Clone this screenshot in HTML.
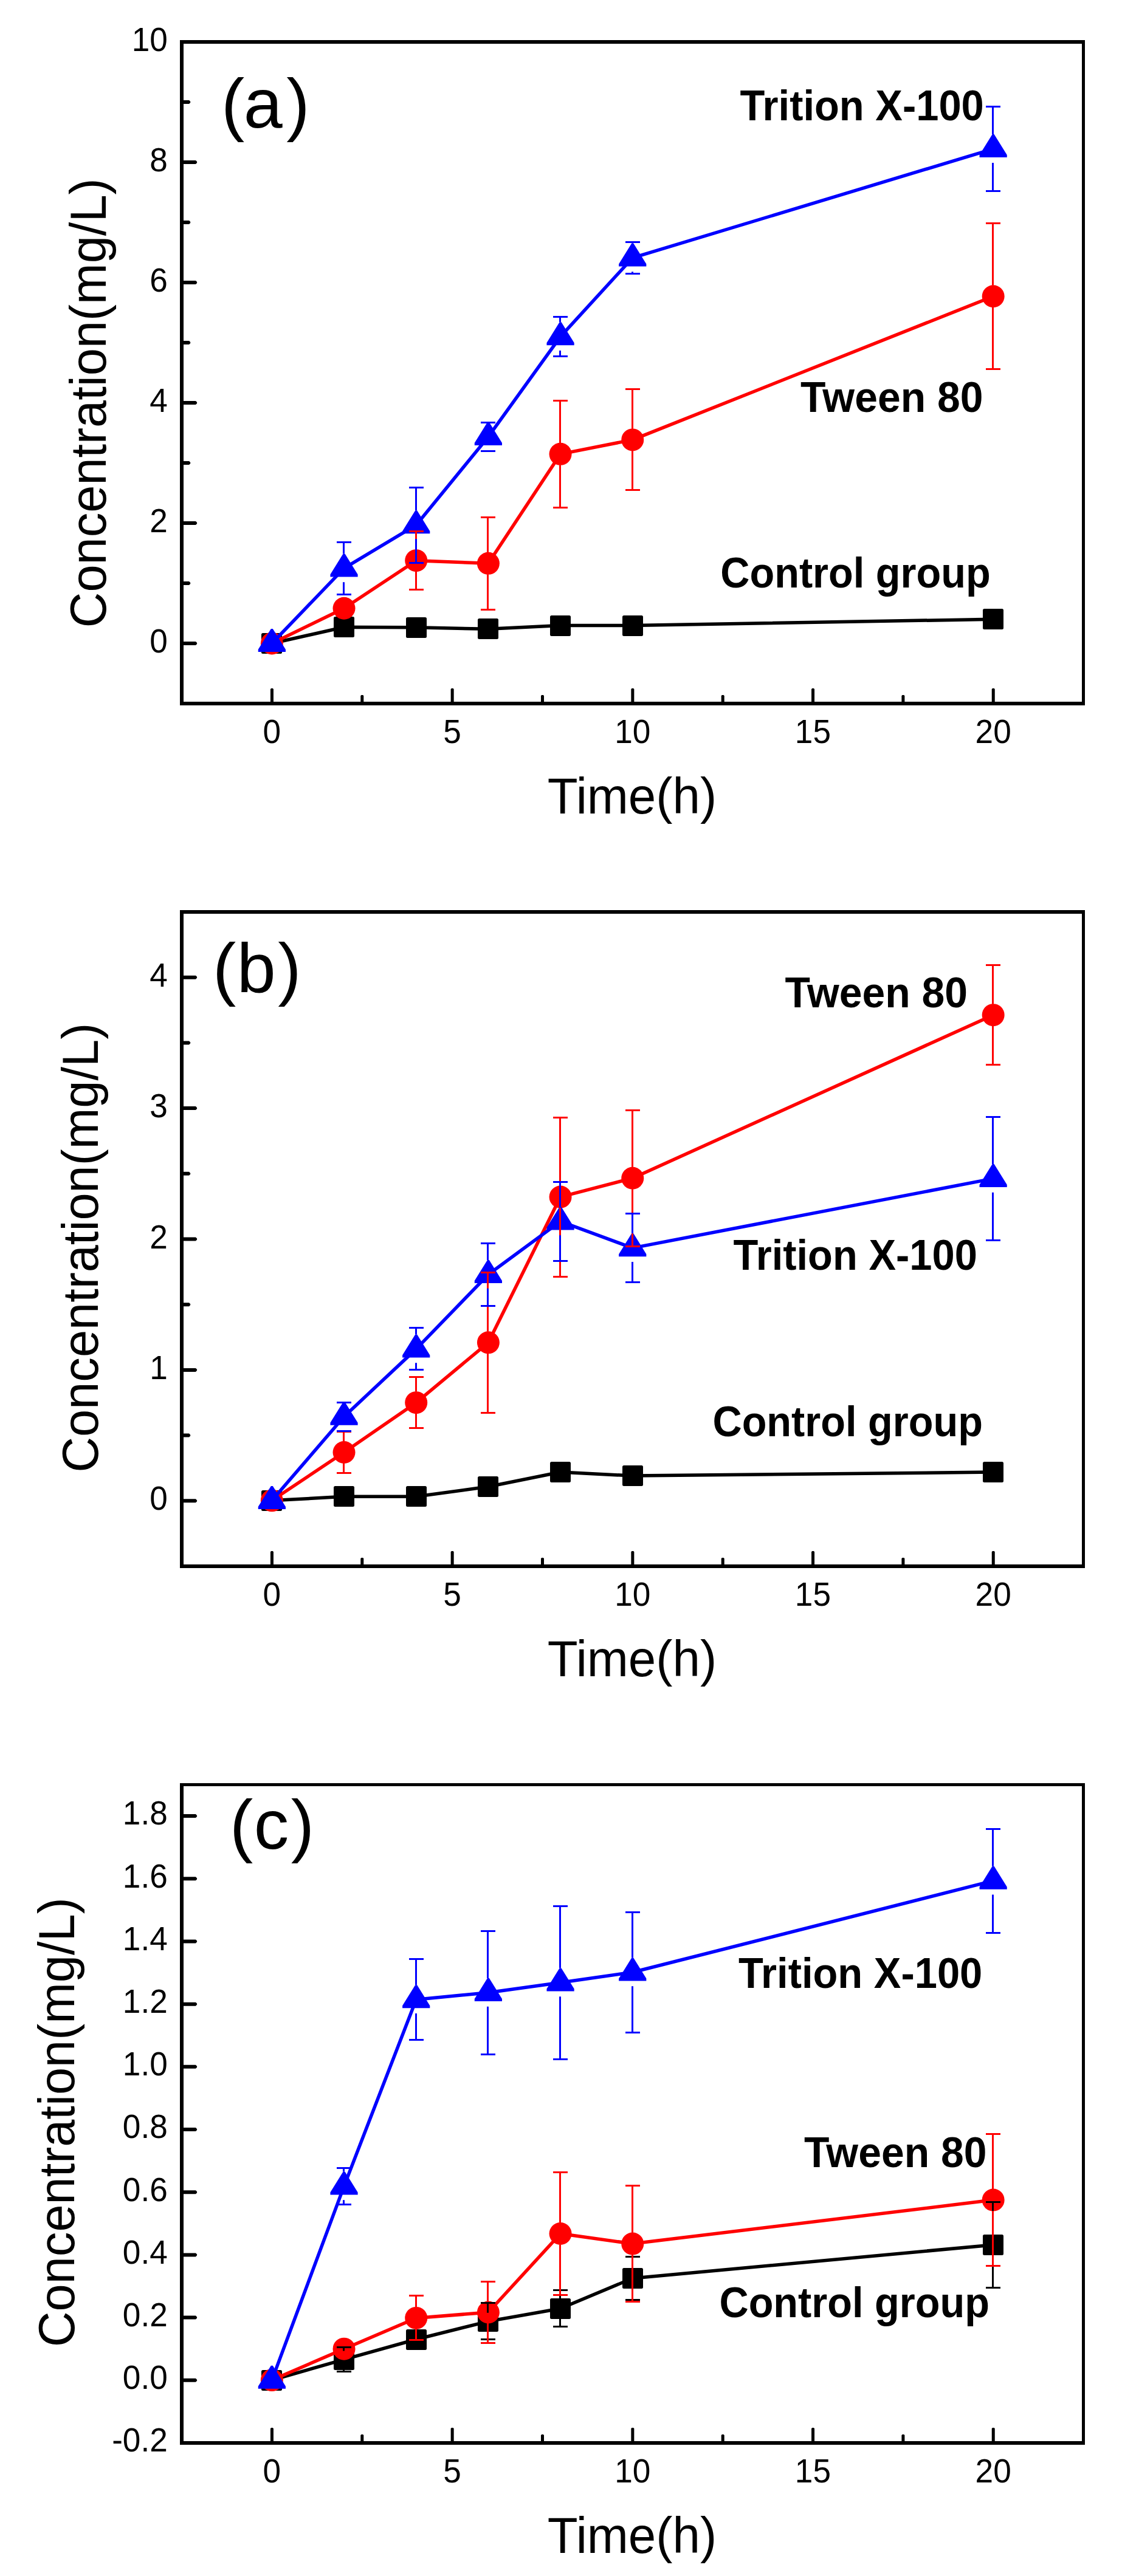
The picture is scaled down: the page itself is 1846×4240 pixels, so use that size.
<!DOCTYPE html>
<html lang="en"><head><meta charset="utf-8"><title>Concentration vs Time</title>
<style>
html,body{margin:0;padding:0;background:#fff;}
body{width:1846px;height:4240px;overflow:hidden;}
svg{display:block;}
text{font-family:"Liberation Sans", sans-serif;fill:#000;}
.tk{font-size:53.2px;}
.ax{font-size:81.7px;}
.lb{font-size:67.2px;font-weight:bold;}
.pn{font-size:115px;}
</style></head><body>
<svg width="1846" height="4240" viewBox="0 0 1846 4240">
<rect x="0" y="0" width="1846" height="4240" fill="#ffffff"/>
<g id="chart-a">
<polyline points="447.35,1059 566.03,1032.27 684.71,1032.77 803.39,1035.24 922.07,1029.6 1040.75,1029.6 1634.15,1019.2" fill="none" stroke="#000000" stroke-width="5.5" stroke-linejoin="round"/>
<rect x="430" y="1042" width="34" height="34" rx="2.5" fill="#000000"/>
<rect x="549" y="1015" width="34" height="34" rx="2.5" fill="#000000"/>
<rect x="668" y="1016" width="34" height="34" rx="2.5" fill="#000000"/>
<rect x="786" y="1018" width="34" height="34" rx="2.5" fill="#000000"/>
<rect x="905" y="1013" width="34" height="34" rx="2.5" fill="#000000"/>
<rect x="1024" y="1013" width="34" height="34" rx="2.5" fill="#000000"/>
<rect x="1617" y="1002" width="34" height="34" rx="2.5" fill="#000000"/>
<polyline points="447.35,1059 566.03,1001.28 684.71,922.68 803.39,927.33 922.07,747.35 1040.75,723.88 1634.15,487.77" fill="none" stroke="#ff0000" stroke-width="5.5" stroke-linejoin="round"/>
<circle cx="447.35" cy="1059" r="18.5" fill="#ff0000"/>
<circle cx="566.03" cy="1001.28" r="18.5" fill="#ff0000"/>
<circle cx="684.71" cy="922.68" r="18.5" fill="#ff0000"/>
<circle cx="803.39" cy="927.33" r="18.5" fill="#ff0000"/>
<circle cx="922.07" cy="747.35" r="18.5" fill="#ff0000"/>
<circle cx="1040.75" cy="723.88" r="18.5" fill="#ff0000"/>
<circle cx="1634.15" cy="487.77" r="18.5" fill="#ff0000"/>
<polyline points="447.35,1059 566.03,935.45 684.71,864.17 803.39,718.93 922.07,554.1 1040.75,424.41 1634.15,245.02" fill="none" stroke="#0000ff" stroke-width="5.5" stroke-linejoin="round"/>
<path d="M424.75 1073.1V1069.1L445.85 1035.1H448.85L469.95 1069.1V1073.1ZM543.43 949.55V945.55L564.53 911.55H567.53L588.63 945.55V949.55ZM662.11 878.27V874.27L683.21 840.27H686.21L707.31 874.27V878.27ZM780.79 733.03V729.03L801.89 695.03H804.89L825.99 729.03V733.03ZM899.47 568.2V564.2L920.57 530.2H923.57L944.67 564.2V568.2ZM1018.15 438.51V434.51L1039.25 400.51H1042.25L1063.35 434.51V438.51ZM1611.55 259.12V255.12L1632.65 221.12H1635.65L1656.75 255.12V259.12Z" fill="#0000ff"/>
<path d="M673 873h24v3h-24ZM673 969h24v3h-24ZM683 876h3V904.68h-3ZM683 940.68h3V969h-3ZM791 850h24v3h-24ZM791 1002h24v3h-24ZM801 853h3V909.33h-3ZM801 945.33h3V1002h-3ZM910 658h24v3h-24ZM910 834h24v3h-24ZM920 661h3V729.35h-3ZM920 765.35h3V834h-3ZM1029 639h24v3h-24ZM1029 805h24v3h-24ZM1039 642h3V705.88h-3ZM1039 741.88h3V805h-3ZM1622 366h24v3h-24ZM1622 606h24v3h-24ZM1632 369h3V469.77h-3ZM1632 505.77h3V606h-3Z" fill="#ff0000"/>
<path d="M554 891h24v3h-24ZM554 977h24v3h-24ZM564 894h3V911.55h-3ZM564 958.35h3V977h-3ZM673 801h24v3h-24ZM673 925h24v3h-24ZM683 804h3V840.27h-3ZM683 887.07h3V925h-3ZM791 694h24v3h-24ZM791 741h24v3h-24ZM910 520h24v3h-24ZM910 585h24v3h-24ZM920 523h3V530.2h-3ZM920 577h3V585h-3ZM1029 397h24v3h-24ZM1029 449h24v3h-24ZM1039 400h3V400.51h-3ZM1039 447.31h3V449h-3ZM1622 174h24v3h-24ZM1622 313h24v3h-24ZM1632 177h3V221.12h-3ZM1632 267.92h3V313h-3Z" fill="#0000ff"/>
<path d="M296 66H1785V1161H296Z M302 72V1155H1780V72Z" fill="#000" fill-rule="evenodd"/>
<path d="M301 1056H322L324.1 1058.1V1059.9L322 1062H301ZM301 858H322L324.1 860.1V861.9L322 864H301ZM301 660H322L324.1 662.1V663.9L322 666H301ZM301 462H322L324.1 464.1V465.9L322 468H301ZM301 264H322L324.1 266.1V267.9L322 270H301ZM301 66H322L324.1 68.1V69.9L322 72H301ZM301 957H311.1L313.2 959.1V960.9L311.1 963H301ZM301 759H311.1L313.2 761.1V762.9L311.1 765H301ZM301 561H311.1L313.2 563.1V564.9L311.1 567H301ZM301 363H311.1L313.2 365.1V366.9L311.1 369H301ZM301 165H311.1L313.2 167.1V168.9L311.1 171H301ZM444.95 1156V1134.3L446.15 1133H448.75L449.95 1134.3V1156ZM741.65 1156V1134.3L742.85 1133H745.45L746.65 1134.3V1156ZM1038.35 1156V1134.3L1039.55 1133H1042.15L1043.35 1134.3V1156ZM1335.05 1156V1134.3L1336.25 1133H1338.85L1340.05 1134.3V1156ZM1631.75 1156V1134.3L1632.95 1133H1635.55L1636.75 1134.3V1156ZM593.3 1156V1145.2L594.5 1143.9H597.1L598.3 1145.2V1156ZM890 1156V1145.2L891.2 1143.9H893.8L895 1145.2V1156ZM1186.7 1156V1145.2L1187.9 1143.9H1190.5L1191.7 1145.2V1156ZM1483.4 1156V1145.2L1484.6 1143.9H1487.2L1488.4 1145.2V1156Z" fill="#000"/>
<text class="tk" text-anchor="end" transform="translate(275.8 1074.1) scale(1 1.035)">0</text>
<text class="tk" text-anchor="end" transform="translate(275.8 876.1) scale(1 1.035)">2</text>
<text class="tk" text-anchor="end" transform="translate(275.8 678.1) scale(1 1.035)">4</text>
<text class="tk" text-anchor="end" transform="translate(275.8 480.1) scale(1 1.035)">6</text>
<text class="tk" text-anchor="end" transform="translate(275.8 282.1) scale(1 1.035)">8</text>
<text class="tk" text-anchor="end" transform="translate(275.8 84.1) scale(1 1.035)">10</text>
<text class="tk" text-anchor="middle" transform="translate(447.35 1223) scale(1 1.035)">0</text>
<text class="tk" text-anchor="middle" transform="translate(744.05 1223) scale(1 1.035)">5</text>
<text class="tk" text-anchor="middle" transform="translate(1040.75 1223) scale(1 1.035)">10</text>
<text class="tk" text-anchor="middle" transform="translate(1337.45 1223) scale(1 1.035)">15</text>
<text class="tk" text-anchor="middle" transform="translate(1634.15 1223) scale(1 1.035)">20</text>
<text class="ax" text-anchor="middle" transform="translate(1039.95 1339) scale(1 1.03)">Time(h)</text>
<text class="ax" text-anchor="middle" transform="translate(174.4 663.3) rotate(-90) scale(0.9935 1.03)">Concentration(mg/L)</text>
<text class="pn" x="363.9 400.69 471.13" y="210.1">(a)</text>
<text class="lb" style="font-size:66.9px" text-anchor="end" transform="translate(1618.8 198.3) scale(1 1.055)">Trition X-100</text>
<text class="lb" style="font-size:67.9px" text-anchor="end" transform="translate(1617.5 678.3) scale(1 1.039)">Tween 80</text>
<text class="lb" style="font-size:66.7px" text-anchor="end" transform="translate(1629.8 966.5) scale(1 1.058)">Control group</text>
</g>
<g id="chart-b">
<polyline points="447.35,2469.8 566.03,2463.34 684.71,2463.34 803.39,2446.97 922.07,2423.06 1040.75,2429.09 1634.15,2423.06" fill="none" stroke="#000000" stroke-width="5.5" stroke-linejoin="round"/>
<rect x="430" y="2453" width="34" height="34" rx="2.5" fill="#000000"/>
<rect x="549" y="2446" width="34" height="34" rx="2.5" fill="#000000"/>
<rect x="668" y="2446" width="34" height="34" rx="2.5" fill="#000000"/>
<rect x="786" y="2430" width="34" height="34" rx="2.5" fill="#000000"/>
<rect x="905" y="2406" width="34" height="34" rx="2.5" fill="#000000"/>
<rect x="1024" y="2412" width="34" height="34" rx="2.5" fill="#000000"/>
<rect x="1617" y="2406" width="34" height="34" rx="2.5" fill="#000000"/>
<polyline points="447.35,2469.8 566.03,2390.53 684.71,2308.68 803.39,2209.81 922.07,1970.07 1040.75,1939.27 1634.15,1670.67" fill="none" stroke="#ff0000" stroke-width="5.5" stroke-linejoin="round"/>
<circle cx="447.35" cy="2469.8" r="18.5" fill="#ff0000"/>
<circle cx="566.03" cy="2390.53" r="18.5" fill="#ff0000"/>
<circle cx="684.71" cy="2308.68" r="18.5" fill="#ff0000"/>
<circle cx="803.39" cy="2209.81" r="18.5" fill="#ff0000"/>
<circle cx="922.07" cy="1970.07" r="18.5" fill="#ff0000"/>
<circle cx="1040.75" cy="1939.27" r="18.5" fill="#ff0000"/>
<circle cx="1634.15" cy="1670.67" r="18.5" fill="#ff0000"/>
<polyline points="447.35,2469.8 566.03,2331.73 684.71,2220.37 803.39,2097.8 922.07,2010.35 1040.75,2054.08 1634.15,1939.92" fill="none" stroke="#0000ff" stroke-width="5.5" stroke-linejoin="round"/>
<path d="M424.75 2483.9V2479.9L445.85 2445.9H448.85L469.95 2479.9V2483.9ZM543.43 2345.83V2341.83L564.53 2307.83H567.53L588.63 2341.83V2345.83ZM662.11 2234.47V2230.47L683.21 2196.47H686.21L707.31 2230.47V2234.47ZM780.79 2111.9V2107.9L801.89 2073.9H804.89L825.99 2107.9V2111.9ZM899.47 2024.45V2020.45L920.57 1986.45H923.57L944.67 2020.45V2024.45ZM1018.15 2068.18V2064.18L1039.25 2030.18H1042.25L1063.35 2064.18V2068.18ZM1611.55 1954.02V1950.02L1632.65 1916.02H1635.65L1656.75 1950.02V1954.02Z" fill="#0000ff"/>
<path d="M554 2355h24v3h-24ZM554 2423h24v3h-24ZM564 2358h3V2372.53h-3ZM564 2408.53h3V2423h-3ZM673 2265h24v3h-24ZM673 2349h24v3h-24ZM683 2268h3V2290.68h-3ZM683 2326.68h3V2349h-3ZM791 2093h24v3h-24ZM791 2324h24v3h-24ZM801 2096h3V2191.81h-3ZM801 2227.81h3V2324h-3ZM910 1838h24v3h-24ZM910 2100h24v3h-24ZM920 1841h3V1952.07h-3ZM920 1988.07h3V2100h-3ZM1029 1826h24v3h-24ZM1029 2050h24v3h-24ZM1039 1829h3V1921.27h-3ZM1039 1957.27h3V2050h-3ZM1622 1587h24v3h-24ZM1622 1751h24v3h-24ZM1632 1590h3V1652.67h-3ZM1632 1688.67h3V1751h-3Z" fill="#ff0000"/>
<path d="M554 2307h24v3h-24ZM554 2354h24v3h-24ZM673 2184h24v3h-24ZM673 2253h24v3h-24ZM683 2187h3V2196.47h-3ZM683 2243.27h3V2253h-3ZM791 2045h24v3h-24ZM791 2148h24v3h-24ZM801 2048h3V2073.9h-3ZM801 2120.7h3V2148h-3ZM910 1944h24v3h-24ZM910 2074h24v3h-24ZM920 1947h3V1986.45h-3ZM920 2033.25h3V2074h-3ZM1029 1996h24v3h-24ZM1029 2109h24v3h-24ZM1039 1999h3V2030.18h-3ZM1039 2076.98h3V2109h-3ZM1622 1837h24v3h-24ZM1622 2040h24v3h-24ZM1632 1840h3V1916.02h-3ZM1632 1962.82h3V2040h-3Z" fill="#0000ff"/>
<path d="M296 1498H1785V2581H296Z M302 1504V2575H1780V1504Z" fill="#000" fill-rule="evenodd"/>
<path d="M301 2467.3H322L324.1 2469.4V2471.2L322 2473.3H301ZM301 2251.9H322L324.1 2254V2255.8L322 2257.9H301ZM301 2036.5H322L324.1 2038.6V2040.4L322 2042.5H301ZM301 1821.1H322L324.1 1823.2V1825L322 1827.1H301ZM301 1605.7H322L324.1 1607.8V1609.6L322 1611.7H301ZM301 2359.6H311.1L313.2 2361.7V2363.5L311.1 2365.6H301ZM301 2144.2H311.1L313.2 2146.3V2148.1L311.1 2150.2H301ZM301 1928.8H311.1L313.2 1930.9V1932.7L311.1 1934.8H301ZM301 1713.4H311.1L313.2 1715.5V1717.3L311.1 1719.4H301ZM444.95 2576V2554.3L446.15 2553H448.75L449.95 2554.3V2576ZM741.65 2576V2554.3L742.85 2553H745.45L746.65 2554.3V2576ZM1038.35 2576V2554.3L1039.55 2553H1042.15L1043.35 2554.3V2576ZM1335.05 2576V2554.3L1336.25 2553H1338.85L1340.05 2554.3V2576ZM1631.75 2576V2554.3L1632.95 2553H1635.55L1636.75 2554.3V2576ZM593.3 2576V2565.2L594.5 2563.9H597.1L598.3 2565.2V2576ZM890 2576V2565.2L891.2 2563.9H893.8L895 2565.2V2576ZM1186.7 2576V2565.2L1187.9 2563.9H1190.5L1191.7 2565.2V2576ZM1483.4 2576V2565.2L1484.6 2563.9H1487.2L1488.4 2565.2V2576Z" fill="#000"/>
<text class="tk" text-anchor="end" transform="translate(275.8 2485.4) scale(1 1.035)">0</text>
<text class="tk" text-anchor="end" transform="translate(275.8 2270) scale(1 1.035)">1</text>
<text class="tk" text-anchor="end" transform="translate(275.8 2054.6) scale(1 1.035)">2</text>
<text class="tk" text-anchor="end" transform="translate(275.8 1839.2) scale(1 1.035)">3</text>
<text class="tk" text-anchor="end" transform="translate(275.8 1623.8) scale(1 1.035)">4</text>
<text class="tk" text-anchor="middle" transform="translate(447.35 2643) scale(1 1.035)">0</text>
<text class="tk" text-anchor="middle" transform="translate(744.05 2643) scale(1 1.035)">5</text>
<text class="tk" text-anchor="middle" transform="translate(1040.75 2643) scale(1 1.035)">10</text>
<text class="tk" text-anchor="middle" transform="translate(1337.45 2643) scale(1 1.035)">15</text>
<text class="tk" text-anchor="middle" transform="translate(1634.15 2643) scale(1 1.035)">20</text>
<text class="ax" text-anchor="middle" transform="translate(1039.95 2759) scale(1 1.03)">Time(h)</text>
<text class="ax" text-anchor="middle" transform="translate(161 2053.7) rotate(-90) scale(0.9935 1.03)">Concentration(mg/L)</text>
<text class="pn" x="350 389.8 457.24" y="1632.9">(b)</text>
<text class="lb" style="font-size:67.9px" text-anchor="end" transform="translate(1592.1 1657.5) scale(1 1.039)">Tween 80</text>
<text class="lb" style="font-size:66.9px" text-anchor="end" transform="translate(1607.9 2089.5) scale(1 1.055)">Trition X-100</text>
<text class="lb" style="font-size:66.7px" text-anchor="end" transform="translate(1617 2364.4) scale(1 1.058)">Control group</text>
</g>
<g id="chart-c">
<polyline points="447.35,3917.6 566.03,3883.54 684.71,3850.52 803.39,3820.8 922.07,3799.8 1040.75,3750 1634.15,3694.89" fill="none" stroke="#000000" stroke-width="5.5" stroke-linejoin="round"/>
<rect x="430" y="3901" width="34" height="34" rx="2.5" fill="#000000"/>
<rect x="549" y="3867" width="34" height="34" rx="2.5" fill="#000000"/>
<rect x="668" y="3834" width="34" height="34" rx="2.5" fill="#000000"/>
<rect x="786" y="3804" width="34" height="34" rx="2.5" fill="#000000"/>
<rect x="905" y="3783" width="34" height="34" rx="2.5" fill="#000000"/>
<rect x="1024" y="3733" width="34" height="34" rx="2.5" fill="#000000"/>
<rect x="1617" y="3678" width="34" height="34" rx="2.5" fill="#000000"/>
<polyline points="447.35,3917.6 566.03,3866.15 684.71,3815.43 803.39,3805.99 922.07,3676.52 1040.75,3693.09 1634.15,3621.05" fill="none" stroke="#ff0000" stroke-width="5.5" stroke-linejoin="round"/>
<circle cx="447.35" cy="3917.6" r="18.5" fill="#ff0000"/>
<circle cx="566.03" cy="3866.15" r="18.5" fill="#ff0000"/>
<circle cx="684.71" cy="3815.43" r="18.5" fill="#ff0000"/>
<circle cx="803.39" cy="3805.99" r="18.5" fill="#ff0000"/>
<circle cx="922.07" cy="3676.52" r="18.5" fill="#ff0000"/>
<circle cx="1040.75" cy="3693.09" r="18.5" fill="#ff0000"/>
<circle cx="1634.15" cy="3621.05" r="18.5" fill="#ff0000"/>
<polyline points="447.35,3917.6 566.03,3598.4 684.71,3291.18 803.39,3279.82 922.07,3263.31 1040.75,3246.28 1634.15,3095.61" fill="none" stroke="#0000ff" stroke-width="5.5" stroke-linejoin="round"/>
<path d="M424.75 3931.7V3927.7L445.85 3893.7H448.85L469.95 3927.7V3931.7ZM543.43 3612.5V3608.5L564.53 3574.5H567.53L588.63 3608.5V3612.5ZM662.11 3305.28V3301.28L683.21 3267.28H686.21L707.31 3301.28V3305.28ZM780.79 3293.92V3289.92L801.89 3255.92H804.89L825.99 3289.92V3293.92ZM899.47 3277.41V3273.41L920.57 3239.41H923.57L944.67 3273.41V3277.41ZM1018.15 3260.38V3256.38L1039.25 3222.38H1042.25L1063.35 3256.38V3260.38ZM1611.55 3109.71V3105.71L1632.65 3071.71H1635.65L1656.75 3105.71V3109.71Z" fill="#0000ff"/>
<path d="M554 3862h24v3h-24ZM554 3902h24v3h-24ZM564 3865h3V3869.54h-3ZM564 3897.54h3V3902h-3ZM791 3789h24v3h-24ZM791 3849h24v3h-24ZM801 3792h3V3806.8h-3ZM801 3834.8h3V3849h-3ZM910 3768h24v3h-24ZM910 3828h24v3h-24ZM920 3771h3V3785.8h-3ZM920 3813.8h3V3828h-3ZM1029 3713h24v3h-24ZM1029 3784h24v3h-24ZM1039 3716h3V3736h-3ZM1039 3764h3V3784h-3ZM1622 3623h24v3h-24ZM1622 3764h24v3h-24ZM1632 3626h3V3680.89h-3ZM1632 3708.89h3V3764h-3Z" fill="#000000"/>
<path d="M673 3777h24v3h-24ZM673 3850h24v3h-24ZM683 3780h3V3797.43h-3ZM683 3833.43h3V3850h-3ZM791 3754h24v3h-24ZM791 3855h24v3h-24ZM801 3757h3V3787.99h-3ZM801 3823.99h3V3855h-3ZM910 3574h24v3h-24ZM910 3776h24v3h-24ZM920 3577h3V3658.52h-3ZM920 3694.52h3V3776h-3ZM1029 3596h24v3h-24ZM1029 3787h24v3h-24ZM1039 3599h3V3675.09h-3ZM1039 3711.09h3V3787h-3ZM1622 3511h24v3h-24ZM1622 3728h24v3h-24ZM1632 3514h3V3603.05h-3ZM1632 3639.05h3V3728h-3Z" fill="#ff0000"/>
<path d="M554 3567h24v3h-24ZM554 3627h24v3h-24ZM564 3570h3V3574.5h-3ZM564 3621.3h3V3627h-3ZM673 3223h24v3h-24ZM673 3356h24v3h-24ZM683 3226h3V3267.28h-3ZM683 3314.08h3V3356h-3ZM791 3177h24v3h-24ZM791 3380h24v3h-24ZM801 3180h3V3255.92h-3ZM801 3302.72h3V3380h-3ZM910 3136h24v3h-24ZM910 3388h24v3h-24ZM920 3139h3V3239.41h-3ZM920 3286.21h3V3388h-3ZM1029 3146h24v3h-24ZM1029 3344h24v3h-24ZM1039 3149h3V3222.38h-3ZM1039 3269.18h3V3344h-3ZM1622 3009h24v3h-24ZM1622 3180h24v3h-24ZM1632 3012h3V3071.71h-3ZM1632 3118.51h3V3180h-3Z" fill="#0000ff"/>
<path d="M296 2935H1785V4024H296Z M302 2940V4018H1780V2940Z" fill="#000" fill-rule="evenodd"/>
<path d="M301 4017.99H322L324.1 4020.09V4021.89L322 4023.99H301ZM301 3914.8H322L324.1 3916.9V3918.7L322 3920.8H301ZM301 3811.61H322L324.1 3813.71V3815.51L322 3817.61H301ZM301 3708.42H322L324.1 3710.52V3712.32L322 3714.42H301ZM301 3605.23H322L324.1 3607.33V3609.13L322 3611.23H301ZM301 3502.04H322L324.1 3504.14V3505.94L322 3508.04H301ZM301 3398.85H322L324.1 3400.95V3402.75L322 3404.85H301ZM301 3295.66H322L324.1 3297.76V3299.56L322 3301.66H301ZM301 3192.47H322L324.1 3194.57V3196.37L322 3198.47H301ZM301 3089.28H322L324.1 3091.38V3093.18L322 3095.28H301ZM301 2986.09H322L324.1 2988.19V2989.99L322 2992.09H301ZM444.95 4019V3997.3L446.15 3996H448.75L449.95 3997.3V4019ZM741.65 4019V3997.3L742.85 3996H745.45L746.65 3997.3V4019ZM1038.35 4019V3997.3L1039.55 3996H1042.15L1043.35 3997.3V4019ZM1335.05 4019V3997.3L1336.25 3996H1338.85L1340.05 3997.3V4019ZM1631.75 4019V3997.3L1632.95 3996H1635.55L1636.75 3997.3V4019ZM593.3 4019V4008.2L594.5 4006.9H597.1L598.3 4008.2V4019ZM890 4019V4008.2L891.2 4006.9H893.8L895 4008.2V4019ZM1186.7 4019V4008.2L1187.9 4006.9H1190.5L1191.7 4008.2V4019ZM1483.4 4019V4008.2L1484.6 4006.9H1487.2L1488.4 4008.2V4019Z" fill="#000"/>
<text class="tk" text-anchor="end" transform="translate(275.8 4035.39) scale(1 1.035)">-0.2</text>
<text class="tk" text-anchor="end" transform="translate(275.8 3932.2) scale(1 1.035)">0.0</text>
<text class="tk" text-anchor="end" transform="translate(275.8 3829.01) scale(1 1.035)">0.2</text>
<text class="tk" text-anchor="end" transform="translate(275.8 3725.82) scale(1 1.035)">0.4</text>
<text class="tk" text-anchor="end" transform="translate(275.8 3622.63) scale(1 1.035)">0.6</text>
<text class="tk" text-anchor="end" transform="translate(275.8 3519.44) scale(1 1.035)">0.8</text>
<text class="tk" text-anchor="end" transform="translate(275.8 3416.25) scale(1 1.035)">1.0</text>
<text class="tk" text-anchor="end" transform="translate(275.8 3313.06) scale(1 1.035)">1.2</text>
<text class="tk" text-anchor="end" transform="translate(275.8 3209.87) scale(1 1.035)">1.4</text>
<text class="tk" text-anchor="end" transform="translate(275.8 3106.68) scale(1 1.035)">1.6</text>
<text class="tk" text-anchor="end" transform="translate(275.8 3003.49) scale(1 1.035)">1.8</text>
<text class="tk" text-anchor="middle" transform="translate(447.35 4086) scale(1 1.035)">0</text>
<text class="tk" text-anchor="middle" transform="translate(744.05 4086) scale(1 1.035)">5</text>
<text class="tk" text-anchor="middle" transform="translate(1040.75 4086) scale(1 1.035)">10</text>
<text class="tk" text-anchor="middle" transform="translate(1337.45 4086) scale(1 1.035)">15</text>
<text class="tk" text-anchor="middle" transform="translate(1634.15 4086) scale(1 1.035)">20</text>
<text class="ax" text-anchor="middle" transform="translate(1039.95 4202) scale(1 1.03)">Time(h)</text>
<text class="ax" text-anchor="middle" transform="translate(122.4 3493.2) rotate(-90) scale(0.9935 1.03)">Concentration(mg/L)</text>
<text class="pn" x="378 417.8 478.8" y="3042.6">(c)</text>
<text class="lb" style="font-size:66.9px" text-anchor="end" transform="translate(1616.3 3271.8) scale(1 1.055)">Trition X-100</text>
<text class="lb" style="font-size:67.9px" text-anchor="end" transform="translate(1623.5 3567) scale(1 1.039)">Tween 80</text>
<text class="lb" style="font-size:66.7px" text-anchor="end" transform="translate(1628 3813.5) scale(1 1.058)">Control group</text>
</g>
</svg></body></html>
